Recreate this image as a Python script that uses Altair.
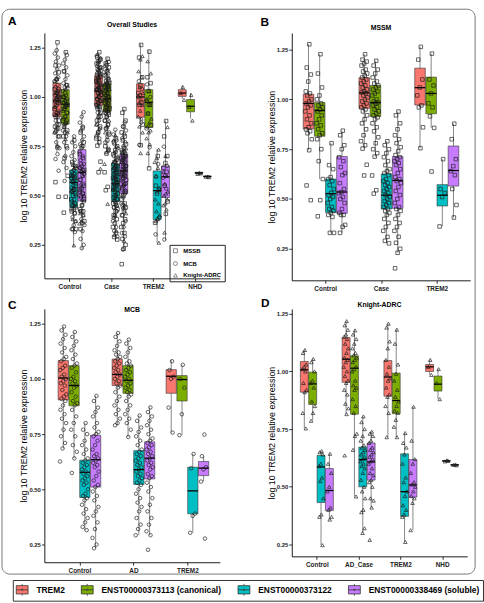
import json

import altair as alt
import pandas as pd

FONT = "Liberation Sans"

SERIES = ["TREM2", "ENST00000373113 (canonical)", "ENST00000373122", "ENST00000338469 (soluble)"]
SERIES_COLORS = ["#F8766D", "#7CAE00", "#00BFC4", "#C77CFF"]
STUDIES = ["MSSB", "MCB", "Knight-ADRC"]
STUDY_SHAPES = ["square", "circle", "triangle-up"]

GROUPS_ALL = ["Control", "Case", "TREM2", "NHD"]
GROUPS_MSSM = ["Control", "Case", "TREM2"]
GROUPS_MCB = ["Control", "AD", "TREM2"]
GROUPS_KNIGHT = ["Control", "AD_Case", "TREM2", "NHD"]

# Box summaries per group: one [lower whisker, Q1, median, Q3, upper whisker]
# per transcript, in SERIES order.
BOX_ALL = [
    [[0.72, 0.90, 0.98, 1.07, 1.27], [0.61, 0.863, 0.963, 1.037, 1.23],
     [0.24, 0.44, 0.567, 0.63, 0.80], [0.225, 0.472, 0.617, 0.733, 0.925]],
    [[0.75, 0.958, 1.03, 1.108, 1.23], [0.72, 0.925, 0.99, 1.067, 1.20],
     [0.27, 0.47, 0.56, 0.66, 0.83], [0.22, 0.51, 0.625, 0.71, 0.94]],
    [[0.75, 0.897, 1.0, 1.067, 1.27], [0.64, 0.845, 0.973, 1.037, 1.237],
     [0.26, 0.378, 0.525, 0.625, 0.737], [0.275, 0.49, 0.595, 0.65, 0.88]],
    [[0.99, 1.003, 1.02, 1.037, 1.06], [0.89, 0.925, 0.953, 0.987, 1.02],
     [0.61, 0.612, 0.615, 0.618, 0.62], [0.593, 0.595, 0.597, 0.599, 0.60]],
]
BOX_MSSM = [
    [[0.745, 0.852, 0.98, 1.026, 1.277], [0.60, 0.815, 0.944, 0.984, 1.227],
     [0.33, 0.433, 0.527, 0.60, 0.78], [0.33, 0.428, 0.535, 0.713, 0.843]],
    [[0.753, 0.955, 1.033, 1.109, 1.227], [0.713, 0.914, 0.984, 1.07, 1.194],
     [0.277, 0.45, 0.519, 0.626, 0.79], [0.23, 0.453, 0.593, 0.713, 0.939]],
    [[0.755, 0.972, 1.059, 1.157, 1.264], [0.857, 0.928, 1.03, 1.112, 1.23],
     [0.362, 0.465, 0.519, 0.572, 0.70], [0.407, 0.565, 0.643, 0.766, 0.878]],
]
BOX_MCB = [
    [[0.685, 0.905, 1.004, 1.083, 1.237], [0.64, 0.878, 0.97, 1.06, 1.212],
     [0.315, 0.463, 0.577, 0.632, 0.80], [0.233, 0.51, 0.634, 0.745, 0.923]],
    [[0.79, 0.97, 1.02, 1.09, 1.208], [0.737, 0.935, 0.994, 1.06, 1.178],
     [0.292, 0.522, 0.589, 0.675, 0.834], [0.292, 0.547, 0.641, 0.715, 0.871]],
    [[0.757, 0.935, 1.012, 1.042, 1.086], [0.745, 0.90, 0.997, 1.015, 1.064],
     [0.303, 0.389, 0.493, 0.60, 0.66], [0.535, 0.562, 0.596, 0.626, 0.65]],
]
BOX_KNIGHT = [
    [[0.753, 0.91, 1.007, 1.043, 1.093], [0.786, 0.857, 0.946, 0.997, 1.054],
     [0.247, 0.432, 0.586, 0.636, 0.655], [0.358, 0.397, 0.484, 0.579, 0.643]],
    [[0.815, 0.953, 1.053, 1.147, 1.218], [0.458, 0.815, 1.014, 1.068, 1.178],
     [0.30, 0.50, 0.618, 0.672, 0.805], [0.41, 0.529, 0.608, 0.69, 0.739]],
    [[0.715, 0.893, 0.976, 1.047, 1.207], [0.715, 0.817, 0.874, 0.993, 1.181],
     [0.261, 0.372, 0.479, 0.643, 0.733], [0.312, 0.455, 0.508, 0.618, 0.847]],
    [[0.985, 1.00, 1.02, 1.03, 1.05], [0.88, 0.915, 0.945, 0.98, 1.01],
     [0.61, 0.611, 0.612, 0.614, 0.615], [0.593, 0.594, 0.595, 0.596, 0.597]],
]

# Sample values per group, one list per transcript (SERIES order).
MSSM_CONTROL = [
    [1.277, 1.16, 1.125, 1.09, 1.04, 1.03, 1.02, 1.0, 0.99, 0.98, 0.97, 0.96, 0.94, 0.92,
     0.9, 0.88, 0.86, 0.85, 0.84, 0.83, 0.8, 0.745, 0.568, 0.494],
    [1.227, 1.13, 1.06, 1.02, 1.0, 0.98, 0.97, 0.96, 0.95, 0.94, 0.92, 0.9, 0.88, 0.87,
     0.85, 0.83, 0.82, 0.8, 0.75, 0.69, 0.6, 0.494, 0.413],
    [0.78, 0.67, 0.65, 0.61, 0.6, 0.59, 0.57, 0.55, 0.53, 0.52, 0.51, 0.5, 0.48, 0.46,
     0.45, 0.44, 0.43, 0.42, 0.41, 0.33, 0.33],
    [0.843, 0.82, 0.77, 0.75, 0.71, 0.69, 0.66, 0.63, 0.62, 0.58, 0.55, 0.535, 0.53, 0.51,
     0.5, 0.48, 0.45, 0.43, 0.42, 0.42, 0.37, 0.36, 0.33],
]
MSSM_CASE = [
    [1.227, 1.2, 1.19, 1.18, 1.17, 1.15, 1.14, 1.13, 1.12, 1.11, 1.1, 1.09, 1.08, 1.07,
     1.06, 1.05, 1.04, 1.035, 1.03, 1.02, 1.01, 1.0, 0.99, 0.98, 0.97, 0.96, 0.95, 0.94,
     0.92, 0.9, 0.88, 0.85, 0.82, 0.79, 0.77, 0.753, 0.672, 0.618],
    [1.194, 1.17, 1.15, 1.13, 1.11, 1.09, 1.08, 1.07, 1.06, 1.05, 1.04, 1.03, 1.02, 1.0,
     0.99, 0.985, 0.98, 0.97, 0.96, 0.95, 0.94, 0.93, 0.92, 0.91, 0.9, 0.88, 0.86, 0.84,
     0.81, 0.78, 0.75, 0.73, 0.713, 0.618, 0.544, 0.527],
    [0.79, 0.77, 0.75, 0.73, 0.71, 0.69, 0.67, 0.65, 0.64, 0.63, 0.62, 0.6, 0.59, 0.58,
     0.57, 0.56, 0.55, 0.54, 0.53, 0.52, 0.51, 0.5, 0.49, 0.48, 0.47, 0.46, 0.45, 0.44,
     0.43, 0.42, 0.4, 0.38, 0.36, 0.34, 0.31, 0.29, 0.277],
    [0.939, 0.92, 0.88, 0.85, 0.82, 0.8, 0.78, 0.76, 0.74, 0.72, 0.71, 0.7, 0.69, 0.68,
     0.67, 0.65, 0.63, 0.61, 0.6, 0.59, 0.58, 0.56, 0.54, 0.52, 0.5, 0.48, 0.46, 0.45,
     0.44, 0.42, 0.4, 0.38, 0.36, 0.34, 0.31, 0.28, 0.25, 0.23, 0.152],
]
MSSM_TREM2 = [
    [1.264, 1.2, 1.1, 1.06, 1.02, 0.97, 0.96, 0.86, 0.755],
    [1.23, 1.1, 1.07, 1.03, 0.98, 0.96, 0.915, 0.857, 0.638],
    [0.70, 0.55, 0.53, 0.51, 0.362],
    [0.878, 0.8, 0.7, 0.665, 0.64, 0.62, 0.55, 0.47, 0.407],
]

MCB_CONTROL = [
    [1.237, 1.22, 1.2, 1.18, 1.16, 1.14, 1.12, 1.1, 1.09, 1.08, 1.06, 1.05, 1.04, 1.02,
     1.01, 1.0, 0.99, 0.98, 0.97, 0.95, 0.93, 0.92, 0.91, 0.9, 0.88, 0.86, 0.84, 0.82,
     0.8, 0.77, 0.74, 0.71, 0.685, 0.626],
    [1.212, 1.19, 1.17, 1.15, 1.13, 1.11, 1.09, 1.07, 1.06, 1.05, 1.03, 1.01, 1.0, 0.99,
     0.98, 0.97, 0.96, 0.94, 0.92, 0.9, 0.89, 0.88, 0.86, 0.83, 0.8, 0.77, 0.74, 0.7,
     0.67, 0.64, 0.574],
    [0.8, 0.77, 0.75, 0.72, 0.7, 0.68, 0.66, 0.64, 0.63, 0.62, 0.61, 0.6, 0.59, 0.58,
     0.57, 0.56, 0.55, 0.54, 0.53, 0.52, 0.5, 0.48, 0.47, 0.46, 0.45, 0.43, 0.41, 0.39,
     0.37, 0.35, 0.33, 0.315],
    [0.923, 0.9, 0.87, 0.85, 0.83, 0.8, 0.78, 0.76, 0.75, 0.74, 0.72, 0.7, 0.68, 0.66,
     0.65, 0.64, 0.63, 0.62, 0.61, 0.6, 0.58, 0.56, 0.54, 0.52, 0.51, 0.49, 0.47, 0.45,
     0.42, 0.4, 0.38, 0.35, 0.32, 0.28, 0.25, 0.233],
]
MCB_AD = [
    [1.208, 1.19, 1.17, 1.15, 1.13, 1.12, 1.11, 1.1, 1.09, 1.08, 1.07, 1.06, 1.05, 1.04,
     1.03, 1.02, 1.01, 1.0, 0.99, 0.98, 0.97, 0.96, 0.94, 0.92, 0.9, 0.88, 0.86, 0.84,
     0.82, 0.8, 0.79],
    [1.178, 1.16, 1.14, 1.12, 1.1, 1.08, 1.07, 1.06, 1.05, 1.04, 1.03, 1.02, 1.01, 1.0,
     0.99, 0.98, 0.97, 0.96, 0.95, 0.94, 0.93, 0.92, 0.9, 0.88, 0.86, 0.84, 0.82, 0.8,
     0.77, 0.737],
    [0.834, 0.81, 0.78, 0.76, 0.74, 0.72, 0.7, 0.68, 0.67, 0.66, 0.65, 0.64, 0.63, 0.62,
     0.61, 0.6, 0.59, 0.58, 0.57, 0.56, 0.55, 0.54, 0.53, 0.52, 0.5, 0.48, 0.46, 0.44,
     0.42, 0.4, 0.37, 0.34, 0.32, 0.292],
    [0.871, 0.85, 0.83, 0.81, 0.79, 0.77, 0.75, 0.73, 0.72, 0.71, 0.7, 0.69, 0.68, 0.67,
     0.66, 0.65, 0.64, 0.63, 0.62, 0.61, 0.6, 0.59, 0.57, 0.56, 0.55, 0.53, 0.51, 0.49,
     0.46, 0.43, 0.4, 0.37, 0.34, 0.31, 0.292, 0.226],
]
MCB_TREM2 = [
    [1.08, 1.04, 1.01, 1.0, 0.87, 0.757],
    [1.064, 1.0, 0.96, 0.84, 0.745],
    [0.66, 0.595, 0.39, 0.38, 0.303],
    [0.748, 0.65, 0.6, 0.59, 0.535, 0.277],
]

KNIGHT_CONTROL = [
    [1.093, 1.08, 1.03, 1.02, 1.01, 1.0, 0.95, 0.92, 0.91, 0.82, 0.753],
    [1.054, 1.04, 1.0, 0.96, 0.95, 0.93, 0.87, 0.85, 0.82, 0.786],
    [0.655, 0.65, 0.64, 0.6, 0.59, 0.54, 0.525, 0.45, 0.38, 0.37, 0.247],
    [0.643, 0.6, 0.56, 0.5, 0.48, 0.41, 0.4, 0.37, 0.358],
]
KNIGHT_AD_CASE = [
    [1.218, 1.2, 1.18, 1.16, 1.15, 1.14, 1.12, 1.1, 1.08, 1.06, 1.05, 1.04, 1.02, 1.0,
     0.98, 0.96, 0.95, 0.92, 0.9, 0.86, 0.84, 0.815, 0.636],
    [1.178, 1.16, 1.14, 1.12, 1.1, 1.08, 1.07, 1.06, 1.05, 1.04, 1.02, 1.01, 1.0, 0.96,
     0.94, 0.93, 0.92, 0.88, 0.85, 0.82, 0.73, 0.72, 0.66, 0.458],
    [0.805, 0.78, 0.75, 0.72, 0.7, 0.68, 0.67, 0.66, 0.65, 0.64, 0.63, 0.62, 0.61, 0.6,
     0.59, 0.58, 0.56, 0.53, 0.5, 0.48, 0.45, 0.4, 0.39, 0.32, 0.30],
    [0.739, 0.73, 0.72, 0.7, 0.69, 0.67, 0.66, 0.65, 0.64, 0.63, 0.62, 0.61, 0.6, 0.58,
     0.56, 0.55, 0.53, 0.52, 0.5, 0.45, 0.44, 0.41, 0.27],
]
KNIGHT_TREM2 = [
    [1.207, 1.19, 1.13, 1.1, 1.05, 1.02, 0.99, 0.97, 0.96, 0.93, 0.9, 0.89, 0.85, 0.82, 0.715],
    [1.181, 1.12, 1.03, 0.99, 0.96, 0.92, 0.89, 0.87, 0.85, 0.83, 0.82, 0.79, 0.76, 0.715],
    [0.733, 0.69, 0.67, 0.64, 0.6, 0.54, 0.52, 0.48, 0.46, 0.42, 0.4, 0.38, 0.37, 0.261],
    [0.847, 0.7, 0.62, 0.6, 0.56, 0.52, 0.51, 0.5, 0.48, 0.46, 0.45, 0.43, 0.312],
]
KNIGHT_NHD = [
    [1.05, 1.02, 0.985],
    [1.01, 0.95, 0.88],
    [0.615, 0.61, 0.612],
    [0.597, 0.595, 0.593],
]

# Legend key: box with median, whiskers and a central dot
BOX_GLYPH = ("M-1,-0.7H1V0.7H-1Z M-1,0H1 M0,-1V-0.7 M0,0.7V1 "
             "M-0.14,0A0.14,0.14,0,1,0,0.14,0A0.14,0.14,0,1,0,-0.14,0Z")

DODGE = "datum.gi + (datum.si - 1.5) * 0.2"
Y_TICKS = [0.25, 0.5, 0.75, 1.0, 1.25]


def box_table(stats):
    rows = []
    for gi, group in enumerate(stats, start=1):
        for si, (lo, q1, med, q3, hi) in enumerate(group):
            rows.append({"gi": gi, "si": si, "series": SERIES[si],
                         "lo": lo, "q1": q1, "med": med, "q3": q3, "hi": hi})
    return pd.DataFrame(rows)


def point_table(study, groups):
    rows = []
    for gi, group in enumerate(groups, start=1):
        for si, values in enumerate(group):
            for v in values:
                rows.append({"gi": gi, "si": si, "study": study, "value": v})
    return pd.DataFrame(rows)


def label_layer(text, x, y, size, weight="bold"):
    """A piece of panel annotation placed in pixel space."""
    return alt.Chart(pd.DataFrame({"label": [text]})).mark_text(
        font=FONT, fontSize=size, fontWeight=weight, color="black",
        align="center", baseline="middle",
    ).encode(text="label:N", x=alt.value(x), y=alt.value(y))


def panel(title, letter, groups, boxes, points, xdomain, ydomain, width, height,
          title_y, letter_xy, shape, color_legend=None, extras=()):
    xaxis = alt.Axis(
        values=list(range(1, len(groups) + 1)),
        labelExpr=f"{json.dumps(groups)}[datum.value - 1]",
        title=None, grid=False, tickSize=3, tickColor="black", tickWidth=0.8,
        domainColor="black", domainWidth=0.9, labelFont=FONT, labelFontSize=6.5,
        labelFontWeight="bold", labelColor="#222", labelPadding=2, labelFlush=False,
    )
    yaxis = alt.Axis(
        values=Y_TICKS, format=".2f", title="log 10 TREM2 relative expression",
        grid=False, tickSize=3, tickColor="black", tickWidth=0.8,
        domainColor="black", domainWidth=0.9, labelFont=FONT, labelFontSize=6,
        labelFontWeight="bold", labelColor="#222", labelPadding=1,
        titleFont=FONT, titleFontSize=9, titleFontWeight="normal", titleColor="black",
        titlePadding=1, minExtent=15, maxExtent=15,
    )
    xs = alt.Scale(domain=xdomain, nice=False, zero=False)
    ys = alt.Scale(domain=ydomain, nice=False, zero=False)

    base = alt.Chart(boxes).transform_calculate(
        pos=DODGE, xlo=DODGE + " - 0.095", xhi=DODGE + " + 0.095"
    )
    whiskers = base.mark_rule(color="#333", strokeWidth=0.6).encode(
        x=alt.X("pos:Q", scale=xs, axis=xaxis),
        y=alt.Y("lo:Q", scale=ys, axis=yaxis),
        y2="hi:Q",
    )
    bodies = base.mark_rect(stroke="#333", strokeWidth=0.6).encode(
        x=alt.X("xlo:Q", scale=xs, axis=xaxis),
        x2="xhi:Q",
        y=alt.Y("q1:Q", scale=ys, axis=yaxis),
        y2="q3:Q",
        color=alt.Color("series:N", scale=alt.Scale(domain=SERIES, range=SERIES_COLORS),
                        legend=color_legend),
    )
    medians = base.mark_rule(color="black", strokeWidth=1.3).encode(
        x=alt.X("xlo:Q", scale=xs, axis=xaxis),
        x2="xhi:Q",
        y=alt.Y("med:Q", scale=ys, axis=yaxis),
    )
    dots = (
        alt.Chart(points)
        .transform_window(rn="row_number()", groupby=["gi", "si"])
        .transform_calculate(px=DODGE + " + ((datum.rn * 0.618034) % 1 - 0.5) * 0.12")
        .mark_point(filled=False, size=13, strokeWidth=0.7, color="#1a1a1a", opacity=0.95)
        .encode(
            x=alt.X("px:Q", scale=xs, axis=xaxis),
            y=alt.Y("value:Q", scale=ys, axis=yaxis),
            shape=shape,
        )
    )
    heading = label_layer(title, width / 2, title_y, 7)
    tag = label_layer(letter, letter_xy[0], letter_xy[1], 12)

    return alt.layer(*extras, whiskers, bodies, medians, dots, heading, tag).properties(
        width=width, height=height,
    )


mssm_pts = point_table("MSSB", [MSSM_CONTROL, MSSM_CASE, MSSM_TREM2])
mcb_pts = point_table("MCB", [MCB_CONTROL, MCB_AD, MCB_TREM2])
knight_pts = point_table("Knight-ADRC", [KNIGHT_CONTROL, KNIGHT_AD_CASE, KNIGHT_TREM2, KNIGHT_NHD])
all_pts = pd.concat([mssm_pts, mcb_pts, knight_pts], ignore_index=True)

frame = alt.Chart(pd.DataFrame({"k": [0]})).mark_rect(
    fillOpacity=0, stroke="#777", strokeWidth=1, cornerRadius=8
).encode(x=alt.value(-43), x2=alt.value(437), y=alt.value(-24), y2=alt.value(549))

study_shape = alt.Shape(
    "study:N",
    scale=alt.Scale(domain=STUDIES, range=STUDY_SHAPES),
    legend=alt.Legend(
        orient="none", legendX=127, legendY=215, title=None, strokeColor="#222",
        padding=3, labelFont=FONT, labelFontSize=6, labelFontWeight="bold",
        labelColor="black", symbolSize=16, symbolStrokeColor="#333",
        symbolStrokeWidth=0.6, rowPadding=5, labelOffset=5,
    ),
)

series_legend = alt.Legend(
    orient="none", legendX=-32, legendY=275, direction="horizontal", columns=4,
    title=None, symbolType=BOX_GLYPH, symbolSize=144, symbolStrokeColor="#333",
    symbolStrokeWidth=0.8, labelFont=FONT, labelFontSize=8.5, labelFontWeight="bold",
    labelColor="black", labelOffset=8, columnPadding=14, padding=3,
    strokeColor="#333", labelLimit=300,
)

panel_a = panel("Overall Studies", "A", GROUPS_ALL, box_table(BOX_ALL), all_pts,
                [0.4, 4.6], [0.08, 1.325], 178, 249, -8, (-32.5, -12),
                study_shape, extras=(frame,))
panel_b = panel("MSSM", "B", GROUPS_MSSM, box_table(BOX_MSSM), mssm_pts,
                [0.4, 3.6], [0.0916, 1.334], 181, 251, -5, (-27.5, -11.5),
                alt.value("square"))
panel_c = panel("MCB", "C", GROUPS_MCB, box_table(BOX_MCB), mcb_pts,
                [0.35, 3.6], [0.1696, 1.317], 178, 257, 1, (-32.5, -4),
                alt.value("circle"), color_legend=series_legend)
panel_d = panel("Knight-ADRC", "D", GROUPS_KNIGHT, box_table(BOX_KNIGHT), knight_pts,
                [0.4, 4.6], [0.1987, 1.271], 178, 251, -4, (-27, -5.5),
                alt.value("triangle-up"))

chart = (
    alt.concat(panel_a, panel_b, panel_c, panel_d, columns=2,
               spacing={"row": 29, "column": 73}, bounds="flush", align="each")
    .resolve_scale(color="independent", shape="independent")
    .properties(padding={"left": 1, "top": 4, "right": 0, "bottom": 0}, background="white")
    .configure_view(stroke=None)
)

chart.save("out.html", embed_options={"renderer": "svg", "actions": False})
